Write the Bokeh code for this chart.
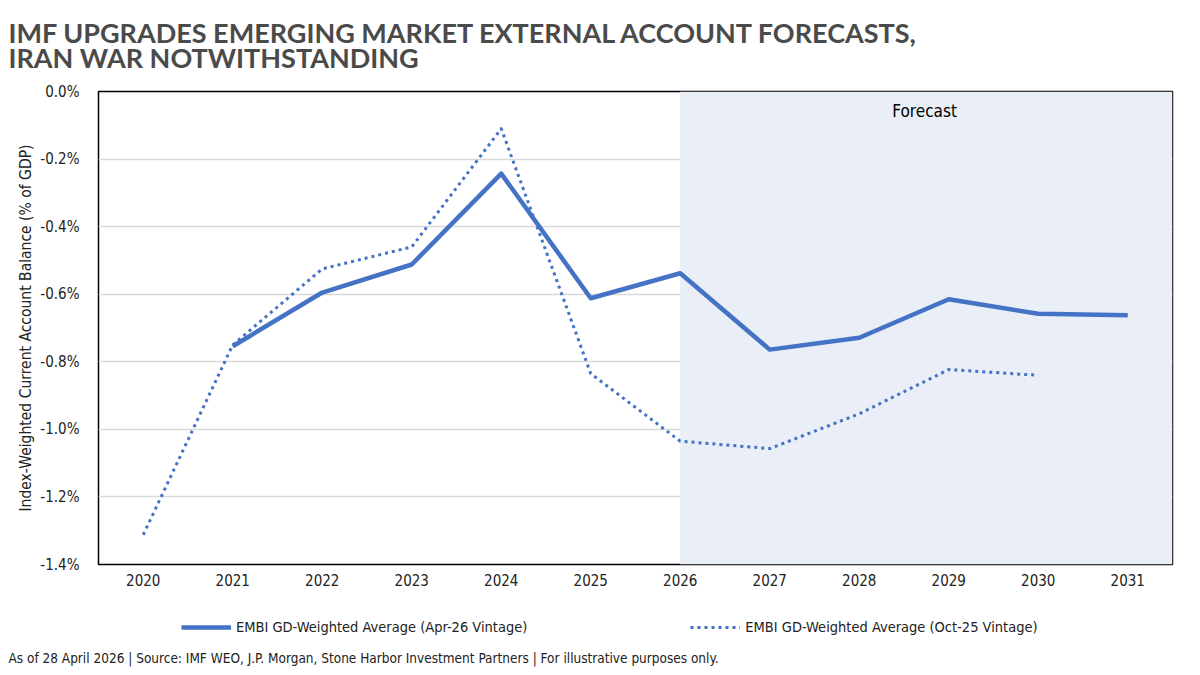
from bokeh.plotting import figure
from bokeh.layouts import column
from bokeh.models import (Legend, LegendItem, BoxAnnotation, Label, Title,
                          FixedTicker, PrintfTickFormatter, Range1d)
from bokeh.embed import file_html
from bokeh.resources import INLINE

years = [2020, 2021, 2022, 2023, 2024, 2025, 2026, 2027, 2028, 2029, 2030, 2031]

apr26_years = [2021, 2022, 2023, 2024, 2025, 2026, 2027, 2028, 2029, 2030, 2031]
apr26_vals = [-0.754, -0.595, -0.512, -0.243, -0.612, -0.538, -0.764, -0.729, -0.615, -0.658, -0.662]

oct25_years = [2020, 2021, 2022, 2023, 2024, 2025, 2026, 2027, 2028, 2029, 2030]
oct25_vals = [-1.312, -0.750, -0.525, -0.460, -0.110, -0.835, -1.035, -1.057, -0.954, -0.823, -0.840]

y_ticks = [-1.4, -1.2, -1.0, -0.8, -0.6, -0.4, -0.2, 0.0]
forecast_start = 2026

title_text = "IMF UPGRADES EMERGING MARKET EXTERNAL ACCOUNT FORECASTS,\nIRAN WAR NOTWITHSTANDING"
y_label = "Index-Weighted Current Account Balance (% of GDP)"
footer_text = "As of 28 April 2026 | Source: IMF WEO, J.P. Morgan, Stone Harbor Investment Partners | For illustrative purposes only."
label_apr = "EMBI GD-Weighted Average (Apr-26 Vintage)"
label_oct = "EMBI GD-Weighted Average (Oct-25 Vintage)"

BLUE = "#4472C4"
NARROW = "'Liberation Sans Narrow', 'DejaVu Sans Condensed', sans-serif"
W = 1184
MAIN_H, FOOT_H = 600, 67

# ---- main chart (with title) ----
p = figure(width=W, height=MAIN_H, output_backend="svg", toolbar_location=None,
           x_range=Range1d(2019.5, 2031.5), y_range=Range1d(-1.4, 0.0),
           min_border_left=98, min_border_right=12, min_border_top=0, min_border_bottom=36,
           background_fill_color="white", border_fill_color="white")

p.title.text = title_text
p.title.text_font = "Lato"
p.title.text_font_style = "bold"
p.title.text_font_size = "27px"
p.title.text_color = "#4a4a4a"
p.title.text_line_height = 0.75
p.title.vertical_align = "top"
p.title.offset = -90
p.title.standoff = 31

p.outline_line_color = "black"
p.outline_line_width = 1.5

p.add_layout(BoxAnnotation(left=forecast_start, fill_color="#E9EEF7", fill_alpha=1.0,
                           line_color=None, level="underlay"))

p.xgrid.grid_line_color = None
p.ygrid.grid_line_color = "#d9d9d9"
p.ygrid.grid_line_width = 1.5

p.xaxis.ticker = FixedTicker(ticks=years)
p.yaxis.ticker = FixedTicker(ticks=y_ticks)
p.yaxis.formatter = PrintfTickFormatter(format="%.1f%%")
for ax in (p.xaxis, p.yaxis):
    ax.axis_line_color = None
    ax.major_tick_line_color = None
    ax.minor_tick_line_color = None
    ax.major_label_text_font = NARROW
    ax.major_label_text_font_size = "15px"
    ax.major_label_text_color = "#222222"
p.xaxis.major_label_standoff = 3
p.yaxis.major_label_standoff = 13
p.yaxis.axis_label = y_label
p.yaxis.axis_label_text_font = NARROW
p.yaxis.axis_label_text_font_size = "15.5px"
p.yaxis.axis_label_text_font_style = "normal"
p.yaxis.axis_label_text_color = "#222222"
p.yaxis.axis_label_standoff = 2

p.line(apr26_years, apr26_vals, line_color=BLUE, line_width=4.5, line_join="round")
p.line(oct25_years, oct25_vals, line_color=BLUE, line_width=3, line_dash="3 4",
       line_cap="butt", line_join="round")

p.add_layout(Label(x=2028.73, y=-0.057, text="Forecast", text_align="center",
                   text_baseline="middle", text_font=NARROW, text_font_size="17px",
                   text_color="black"))

# ---- footer (legend + source) ----
foot = figure(width=W, height=FOOT_H, output_backend="svg", toolbar_location=None,
              x_range=Range1d(98, 1172), y_range=Range1d(0, 45),
              x_axis_type=None, y_axis_type=None,
              min_border_left=98, min_border_right=12, min_border_top=0, min_border_bottom=22,
              background_fill_color="white", border_fill_color="white")
foot.outline_line_color = None
foot.grid.grid_line_color = None
k_apr = foot.line(apr26_years, apr26_vals, line_color=BLUE, line_width=4.5, visible=False)
k_oct = foot.line(oct25_years, oct25_vals, line_color=BLUE, line_width=3, line_dash="3 4",
                  line_cap="butt", visible=False)
legend = Legend(items=[LegendItem(label=label_apr, renderers=[k_apr]),
                       LegendItem(label=label_oct, renderers=[k_oct])],
                orientation="horizontal", location=(83, 8),
                label_text_font=NARROW, label_text_font_size="14.5px",
                label_text_color="#222222", glyph_width=50, label_standoff=5,
                spacing=163, border_line_color=None, background_fill_alpha=0,
                margin=0, padding=5)
foot.add_layout(legend)
foot.add_layout(Title(text=footer_text, align="left", text_font=NARROW, text_font_size="13.5px",
                      text_font_style="normal", text_color="#222222", offset=-90, standoff=4),
                "below")

layout = column(p, foot, spacing=0)
open("out.html", "w").write(file_html(layout, INLINE))
